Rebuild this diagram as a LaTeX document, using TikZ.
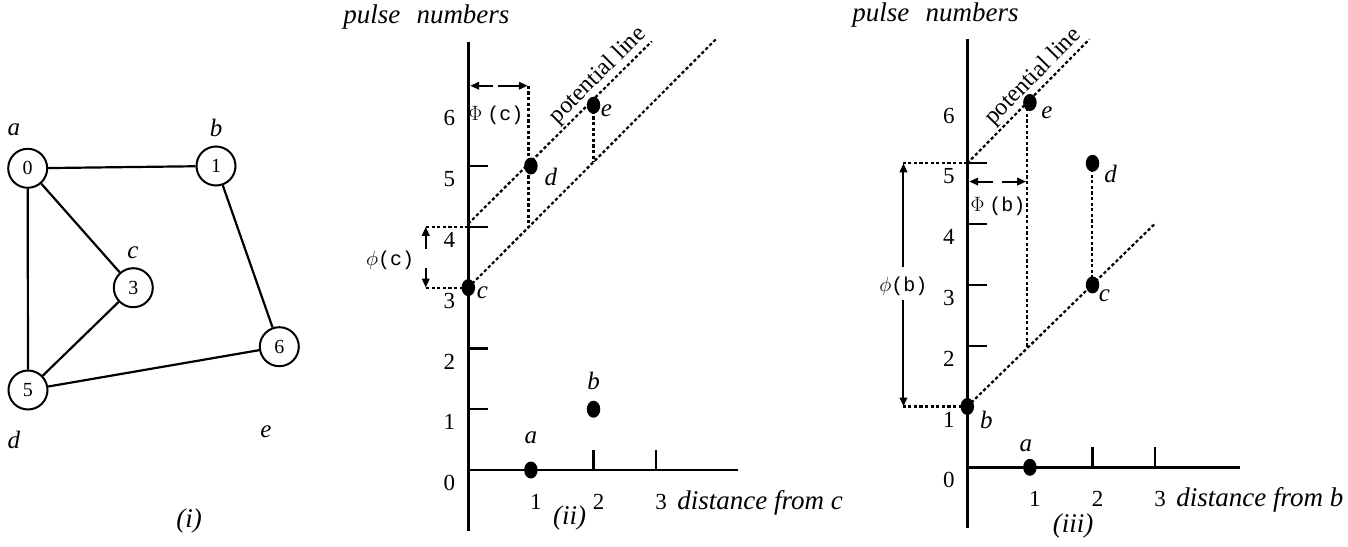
\documentclass[tikz,border=0pt]{standalone}
\usepackage{fontspec}
\setmainfont{Liberation Serif}
\setmonofont{Liberation Mono}
\usetikzlibrary{arrows.meta,shapes.geometric}
\newcommand{\myfs}[1]{\fontsize{#1}{#1}\selectfont}
\begin{document}
\begin{tikzpicture}[x=1pt,y=-1pt,
  ax/.style={line width=2.5pt},
  tk/.style={line width=2.2pt},
  edge/.style={line width=2.2pt},
  dotl/.style={line width=2.2pt,dash pattern=on 3.2pt off 2.4pt},
  pnt/.style={ellipse,fill=black,minimum width=13.5pt,minimum height=17pt,inner sep=0pt},
  arr/.style={line width=2pt,-{Triangle[length=9pt,width=7.5pt]}},
  vtx/.style={circle,draw,line width=2pt,minimum size=39pt,inner sep=0pt,font={\myfs{20}}},
  lab/.style={font={\myfs{25}\itshape},inner sep=0pt},
  big/.style={font={\myfs{27}\itshape},inner sep=0pt},
  num/.style={font={\myfs{23}},inner sep=0pt},
  ttl/.style={font={\myfs{27}\itshape},inner sep=0pt},
  sym/.style={font={\myfs{20}},inner sep=0pt},
  pot/.style={font={\myfs{24}},inner sep=2.5pt,above,sloped},
]
\useasboundingbox (0,0) rectangle (1348,546);

% ---------- (i) graph ----------
\node[vtx] (v0) at (27.7,168.3) {0};
\node[vtx] (v1) at (216,166) {1};
\node[vtx] (v3) at (133.3,287.7) {3};
\node[vtx] (v6) at (279.3,346.7) {6};
\node[vtx] (v5) at (28,390) {5};
\draw[edge] (v0) -- (v1);
\draw[edge] (v0) -- (v3);
\draw[edge] (v0) -- (v5);
\draw[edge] (v3) -- (v5);
\draw[edge] (v1) -- (v6);
\draw[edge] (v5) -- (v6);
\node[lab] (ga) at (14,130) {a};
\node[lab] (gb) at (216,128) {b};
\node[lab] (gc) at (133,253) {c};
\node[lab] (gd) at (14,440) {d};
\node[lab] (ge) at (266,432) {e};
\node[ttl] (ti) at (189,521) {(i)};

% ---------- (ii) ----------
\begin{scope}[shift={(468.3,470)},x=62.6pt,y=60.8pt]
  \coordinate (y2top) at (0,7.04);
  \coordinate (y2bot) at (0,-1);
  \coordinate (o2) at (0,0);
  \coordinate (x2end) at (4.31,0);
  \draw[ax] (y2top) -- (y2bot);
  \draw[ax] (o2) -- (x2end);
  \foreach \k in {1,2,4,5} \draw[tk] (0,\k) -- ++(20pt,0);
  \foreach \k in {2,3} \draw[tk] (\k,0) -- ++(0,20pt);
  \foreach \k in {0,...,6} \node[num,xshift=-19pt,yshift=-13pt] (yl2\k) at (0,\k) {\k};
  \foreach \k in {1,2,3} \node[num,xshift=5pt,yshift=-32pt] (xl2\k) at (\k,0) {\k};
  \node[big,anchor=west,xshift=21pt,yshift=-33pt] (dist2) at (3,0) {distance from c};
  \node[ttl] (tii) at (1.62,-0.79) {(ii)};
  \node[big,anchor=west] (pn2) at (-2.0,7.45) {pulse\hspace{0.6em}numbers};
  % potential lines
  \coordinate (u2s) at (0,4.05);
  \coordinate (u2e) at (2.93,7.05);
  \coordinate (l2s) at (0,3);
  \coordinate (l2e) at (3.97,7.1);
  \draw[dotl] (u2s) -- (u2e);
  \draw[dotl] (l2s) -- (l2e);
  \path (u2s) -- (u2e) node[pot,pos=0.76] (pl2) {potential line};
  \coordinate (v2t) at (0.96,6.32);
  \coordinate (v2b) at (0.96,3.99);
  \draw[dotl] (v2t) -- (v2b);
  \coordinate (e2t) at (2,6);
  \coordinate (e2b) at (2,5.07);
  \draw[dotl] (e2t) -- (e2b);
  % Phi(c)
  \coordinate (P2a) at (0.40,6.32);
  \coordinate (P2b) at (0.03,6.32);
  \coordinate (P2c) at (0.48,6.32);
  \coordinate (P2d) at (0.95,6.32);
  \draw[arr] (P2a) -- (P2b);
  \draw[arr] (P2c) -- (P2d);
  \node[sym] (Phc) at (0.44,5.84) {$\Phi$ \texttt{(c)}};
  % phi(c)
  \coordinate (q2a) at (0,4);
  \coordinate (q2b) at (-0.68,4);
  \coordinate (q2c) at (0,3);
  \coordinate (q2d) at (-0.68,3);
  \draw[dotl] (q2a) -- (q2b);
  \draw[dotl] (q2c) -- (q2d);
  \coordinate (q2e) at (-0.68,3.63);
  \coordinate (q2f) at (-0.68,3.33);
  \draw[arr] (q2e) -- (q2b);
  \draw[arr] (q2f) -- (q2d);
  \node[sym] (phc) at (-1.25,3.45) {$\phi$\texttt{(c)}};
  % points
  \node[pnt] (a2) at (1,0) {};
  \node[pnt] (b2) at (2,1) {};
  \node[pnt] (c2) at (0,3) {};
  \node[pnt] (d2) at (1,5) {};
  \node[pnt] (e2) at (2,6) {};
  \node[lab,yshift=32pt] (la2) at (1,0) {a};
  \node[lab,yshift=28pt] (lb2) at (2,1) {b};
  \node[lab,xshift=14pt,yshift=-5pt] (lc2) at (0,3) {c};
  \node[lab,xshift=20pt,yshift=-11pt] (ld2) at (1,5) {d};
  \node[lab,xshift=13pt,yshift=-6pt] (le2) at (2,6) {e};
\end{scope}

% ---------- (iii) ----------
\begin{scope}[shift={(967.3,467.3)},x=62.6pt,y=60.8pt]
  \coordinate (y3top) at (0,7.04);
  \coordinate (y3bot) at (0,-1);
  \coordinate (o3) at (0,0);
  \coordinate (x3end) at (4.36,0);
  \draw[ax] (y3top) -- (y3bot);
  \draw[ax] (o3) -- (x3end);
  \foreach \k in {2,...,5} \draw[tk] (0,\k) -- ++(20pt,0);
  \foreach \k in {2,3} \draw[tk] (\k,0) -- ++(0,20pt);
  \foreach \k in {0,...,6} \node[num,xshift=-18.5pt,yshift=-13pt] (yl3\k) at (0,\k) {\k};
  \foreach \k in {1,2,3} \node[num,xshift=5pt,yshift=-32pt] (xl3\k) at (\k,0) {\k};
  \node[big,anchor=west,xshift=21pt,yshift=-33pt] (dist3) at (3,0) {distance from b};
  \node[ttl] (tiii) at (1.69,-0.96) {(iii)};
  \node[big,anchor=west] (pn3) at (-1.84,7.44) {pulse\hspace{0.6em}numbers};
  % potential lines
  \coordinate (u3s) at (0,5);
  \coordinate (u3e) at (1.95,7.04);
  \coordinate (l3s) at (0,1);
  \coordinate (l3e) at (3.0,4.01);
  \draw[dotl] (u3s) -- (u3e);
  \draw[dotl] (l3s) -- (l3e);
  \path (u3s) -- (u3e) node[pot,pos=0.62] (pl3) {potential line};
  \coordinate (v3t) at (0.95,6);
  \coordinate (v3b) at (0.95,1.97);
  \draw[dotl] (v3t) -- (v3b);
  \coordinate (dc3t) at (1.99,5);
  \coordinate (dc3b) at (1.99,3);
  \draw[dotl] (dc3t) -- (dc3b);
  % Phi(b)
  \coordinate (P3a) at (0.41,4.70);
  \coordinate (P3b) at (0.03,4.70);
  \coordinate (P3c) at (0.56,4.70);
  \coordinate (P3d) at (0.94,4.70);
  \draw[arr] (P3a) -- (P3b);
  \draw[arr] (P3c) -- (P3d);
  \node[sym] (Phb) at (0.49,4.29) {$\Phi$ \texttt{(b)}};
  % phi(b)
  \coordinate (q3a) at (0,5);
  \coordinate (q3b) at (-1.02,5);
  \coordinate (q3c) at (0,1);
  \coordinate (q3d) at (-1.02,1);
  \draw[dotl] (q3a) -- (q3b);
  \draw[dotl] (q3c) -- (q3d);
  \coordinate (q3e) at (-1.02,3.29);
  \coordinate (q3f) at (-1.02,2.75);
  \draw[arr] (q3e) -- (q3b);
  \draw[arr] (q3f) -- (q3d);
  \node[sym] (phb) at (-1.02,2.97) {$\phi$\texttt{(b)}};
  % points
  \node[pnt] (a3) at (1,0) {};
  \node[pnt] (b3) at (0,1) {};
  \node[pnt] (c3) at (2,3) {};
  \node[pnt] (d3) at (2,5) {};
  \node[pnt] (e3) at (1,6) {};
  \node[lab,xshift=-4pt,yshift=22pt] (la3) at (1,0) {a};
  \node[lab,xshift=19pt,yshift=-13pt] (lb3) at (0,1) {b};
  \node[lab,xshift=12pt,yshift=-11pt] (lc3) at (2,3) {c};
  \node[lab,xshift=18pt,yshift=-11pt] (ld3) at (2,5) {d};
  \node[lab,xshift=17pt,yshift=-10pt] (le3) at (1,6) {e};
\end{scope}
\end{tikzpicture}
\end{document}
